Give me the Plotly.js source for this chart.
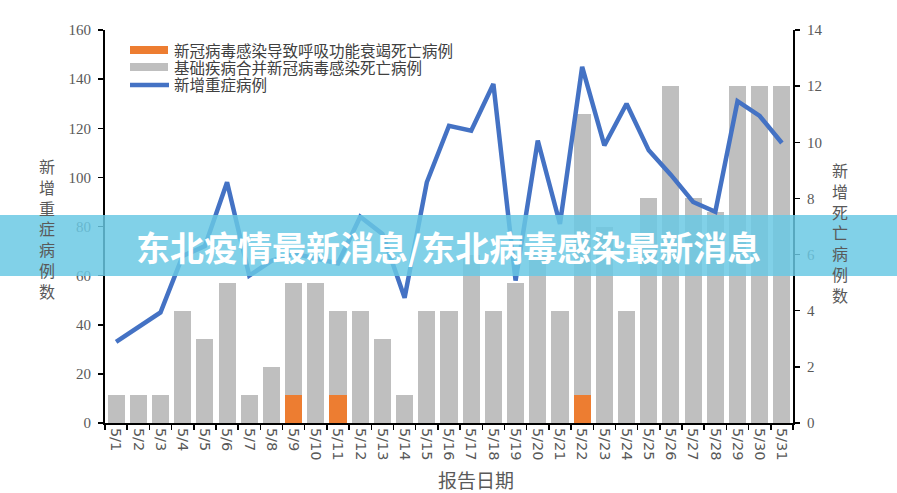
<!DOCTYPE html>
<html>
<head>
<meta charset="utf-8">
<script src="https://cdn.plot.ly/plotly-3.0.1.min.js"></script>
<style>html,body{margin:0;padding:0;background:#fff;}#chart{width:897px;height:493px;}</style>
</head>
<body>
<div id="chart"></div>
<script>
const dates = ["5/1","5/2","5/3","5/4","5/5","5/6","5/7","5/8","5/9","5/10","5/11","5/12","5/13","5/14","5/15","5/16","5/17","5/18","5/19","5/20","5/21","5/22","5/23","5/24","5/25","5/26","5/27","5/28","5/29","5/30","5/31"];
// deaths from respiratory failure caused by COVID (orange)
const respDeaths = [0,0,0,0,0,0,0,0,1,0,1,0,0,0,0,0,0,0,0,0,0,1,0,0,0,0,0,0,0,0,0];
// deaths with underlying disease (gray)
const baseDeaths = [1,1,1,4,3,5,1,2,4,5,3,4,3,1,4,4,6,4,5,6,4,10,7,4,8,12,8,7.5,12,12,12];
// new severe cases (blue line)
const severe = [33,39,45,68,72,98,60,66,69,67,65,84,77,51,98,121,119,138,58,115,81,145,113,130,111,101,90,86,131,125,114];

const legendNames = ["新冠病毒感染导致呼吸功能衰竭死亡病例","基础疾病合并新冠病毒感染死亡病例","新增重症病例"];
const leftTitle = "新增重症病例数";
const rightTitle = "新增死亡病例数";
const xTitle = "报告日期";
const bannerText = "东北疫情最新消息/东北病毒感染最新消息";

const W = 897, H = 493, L = 105, R = 104, T = 30, B = 70;
const PW = W - L - R, PH = H - T - B;
const px = x => (x - L) / PW;
const py = y => (H - B - y) / PH;

const tickFont = {family: "Liberation Serif, DejaVu Serif, serif", size: 15, color: "#595959"};
const cjk = "Noto Sans CJK SC, sans-serif";

const traces = [
  {type: "bar", x: dates, y: respDeaths, yaxis: "y", name: legendNames[0],
   marker: {color: "#ED7D31", line: {width: 0}}, showlegend: false, hoverinfo: "skip"},
  {type: "bar", x: dates, y: baseDeaths, yaxis: "y", name: legendNames[1],
   marker: {color: "#BFBFBF", line: {width: 0}}, showlegend: false, hoverinfo: "skip"},
  {type: "scatter", mode: "lines", x: dates, y: severe, yaxis: "y2", name: legendNames[2],
   line: {color: "#4472C4", width: 4.5}, showlegend: false, hoverinfo: "skip"}
];

const annotations = [];
const shapes = [];

// vertical stacked axis titles
annotations.push({xref: "paper", yref: "paper", x: px(47), y: py(229),
  text: leftTitle.split("").join("<br>"), showarrow: false, xanchor: "center", yanchor: "middle",
  font: {family: cjk, size: 16, color: "#595959"}});
annotations.push({xref: "paper", yref: "paper", x: px(840), y: py(232),
  text: rightTitle.split("").join("<br>"), showarrow: false, xanchor: "center", yanchor: "middle",
  font: {family: cjk, size: 16, color: "#595959"}});
// x title
annotations.push({xref: "paper", yref: "paper", x: px(476), y: py(479), text: xTitle,
  showarrow: false, xanchor: "center", yanchor: "middle",
  font: {family: cjk, size: 19, color: "#595959"}});

// custom legend
shapes.push({type: "rect", xref: "paper", yref: "paper", x0: px(130), x1: px(168), y0: py(54), y1: py(46),
  fillcolor: "#ED7D31", line: {width: 0}});
shapes.push({type: "rect", xref: "paper", yref: "paper", x0: px(130), x1: px(168), y0: py(71), y1: py(63),
  fillcolor: "#BFBFBF", line: {width: 0}});
shapes.push({type: "line", xref: "paper", yref: "paper", x0: px(130), x1: px(169), y0: py(85), y1: py(85),
  line: {color: "#4472C4", width: 4.5}});
const legY = [50, 66.5, 83.5];
for (let i = 0; i < 3; i++) {
  annotations.push({xref: "paper", yref: "paper", x: px(172), y: py(legY[i]), text: legendNames[i],
    showarrow: false, xanchor: "left", yanchor: "middle",
    font: {family: cjk, size: 15.5, color: "#404040"}});
}

// banner overlay
shapes.push({type: "rect", xref: "paper", yref: "paper", x0: px(-5), x1: px(905), y0: py(276), y1: py(215),
  fillcolor: "rgba(105,200,228,0.84)", line: {width: 0}, layer: "above"});
annotations.push({xref: "paper", yref: "paper", x: px(448.5), y: py(246), text: "<b>" + bannerText + "</b>",
  showarrow: false, xanchor: "center", yanchor: "middle",
  font: {family: cjk, size: 34, color: "#ffffff"}});

const layout = {
  width: W, height: H,
  margin: {l: L, r: R, t: T, b: B, pad: 0},
  paper_bgcolor: "#ffffff", plot_bgcolor: "#ffffff",
  barmode: "stack", bargap: 0.23,
  showlegend: false,
  xaxis: {type: "category", range: [-0.5, 30.5], tickangle: 90, tickson: "boundaries",
    ticks: "outside", ticklen: 5, tickwidth: 1.5, tickcolor: "#000",
    showline: true, linecolor: "#000", linewidth: 2, showgrid: false, zeroline: false,
    tickfont: {family: "DejaVu Sans, sans-serif", size: 14.5, color: "#595959"}},
  yaxis: {range: [0, 14], dtick: 2, side: "right", showgrid: false, zeroline: false,
    ticks: "outside", ticklen: 5, tickwidth: 1.5, tickcolor: "#000",
    showline: true, linecolor: "#000", linewidth: 2, tickfont: tickFont, ticklabelstandoff: 4},
  yaxis2: {range: [0, 160], dtick: 20, side: "left", overlaying: "y", showgrid: false, zeroline: false,
    ticks: "outside", ticklen: 5, tickwidth: 1.5, tickcolor: "#000",
    showline: true, linecolor: "#000", linewidth: 2, tickfont: tickFont, ticklabelstandoff: 4},
  shapes: shapes,
  annotations: annotations
};

Plotly.newPlot("chart", traces, layout, {displayModeBar: false, staticPlot: true});
</script>
</body>
</html>
